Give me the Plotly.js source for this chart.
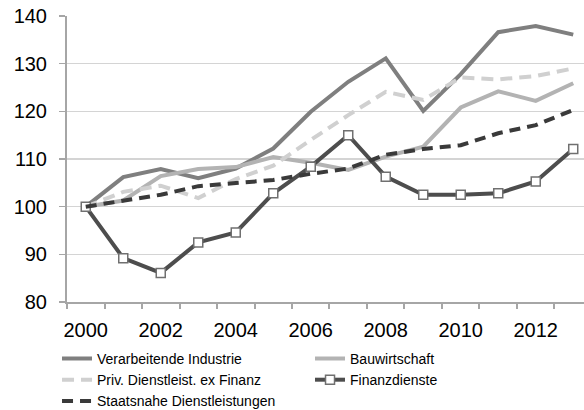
<!DOCTYPE html>
<html><head><meta charset="utf-8">
<script src="https://cdn.plot.ly/plotly-3.0.1.min.js"></script>
<style>html,body{margin:0;padding:0;background:#fff}#chart{width:584px;height:410px}</style>
</head><body><div id="chart"></div>
<script>
const years = [2000,2001,2002,2003,2004,2005,2006,2007,2008,2009,2010,2011,2012,2013];
const verarbeitende = [100,106.2,107.9,106.0,108.0,112.2,119.9,126.2,131.1,120.1,127.8,136.6,137.9,136.1];
const bauwirtschaft = [100,101.3,106.4,107.9,108.3,110.4,109.2,107.7,110.5,112.6,120.8,124.2,122.2,125.9];
const privDienst = [100,103.1,104.4,101.8,105.8,108.6,114.0,119.2,124.1,122.4,127.1,126.7,127.4,129.0];
const finanz = [100,89.2,86.1,92.5,94.6,102.8,108.4,115.0,106.3,102.5,102.5,102.8,105.3,112.1];
const staatsnah = [100,101.3,102.5,104.3,105.0,105.6,106.9,108.0,110.9,112.1,112.9,115.4,117.1,120.3];
const seriesNames = ["Verarbeitende Industrie","Bauwirtschaft","Priv. Dienstleist. ex Finanz","Finanzdienste","Staatsnahe Dienstleistungen"];
const tickYears = [2000,2002,2004,2006,2008,2010,2012];

const traces = [
  {x: years, y: verarbeitende, name: seriesNames[0], mode: 'lines', line: {color: '#7f7f7f', width: 4}},
  {x: years, y: bauwirtschaft, name: seriesNames[1], mode: 'lines', line: {color: '#b3b3b3', width: 4}},
  {x: years, y: privDienst, name: seriesNames[2], mode: 'lines', line: {color: '#d0d0d0', width: 4, dash: '12px,7px'}},
  {x: years, y: finanz, name: seriesNames[3], mode: 'lines+markers', line: {color: '#4d4d4d', width: 4},
   marker: {symbol: 'square', size: 9, color: '#ffffff', line: {color: '#707070', width: 1.5}}},
  {x: years, y: staatsnah, name: seriesNames[4], mode: 'lines', line: {color: '#3a3a3a', width: 4, dash: '11px,7px'}}
];
const layout = {
  width: 584, height: 410,
  margin: {l: 67, r: 0, t: 16, b: 108, autoexpand: false},
  paper_bgcolor: '#ffffff', plot_bgcolor: '#ffffff',
  font: {family: '"Liberation Sans", Arial, sans-serif', color: '#000000'},
  showlegend: true,
  xaxis: {
    range: [1999.5, 2013.287], tickmode: 'array', tickvals: tickYears, ticktext: tickYears.map(String),
    ticks: 'outside', ticklen: 5, tickcolor: 'rgba(0,0,0,0)', tickfont: {size: 20},
    ticklabelstandoff: 4, automargin: false,
    showline: true, linecolor: '#a6a6a6', linewidth: 2, showgrid: false, zeroline: false,
    minor: {tick0: 1999.5, dtick: 1, ticks: 'outside', ticklen: 5, tickwidth: 2, tickcolor: '#a6a6a6', showgrid: false}
  },
  yaxis: {
    range: [80, 140], dtick: 10, tick0: 80, ticks: 'outside', ticklen: 6, tickwidth: 1.5, tickcolor: '#a6a6a6',
    tickfont: {size: 20}, ticklabelstandoff: 8, automargin: false,
    showline: true, linecolor: '#a6a6a6', linewidth: 2,
    showgrid: true, gridcolor: '#d4d4d4', gridwidth: 1.5, zeroline: false
  },
  legend: {
    orientation: 'h', x: -0.0193, xanchor: 'left', y: -0.143, yanchor: 'top',
    font: {size: 14}, entrywidth: 208, entrywidthmode: 'pixels', traceorder: 'normal'
  }
};
Plotly.newPlot('chart', traces, layout, {displayModeBar: false, staticPlot: true});
</script></body></html>
